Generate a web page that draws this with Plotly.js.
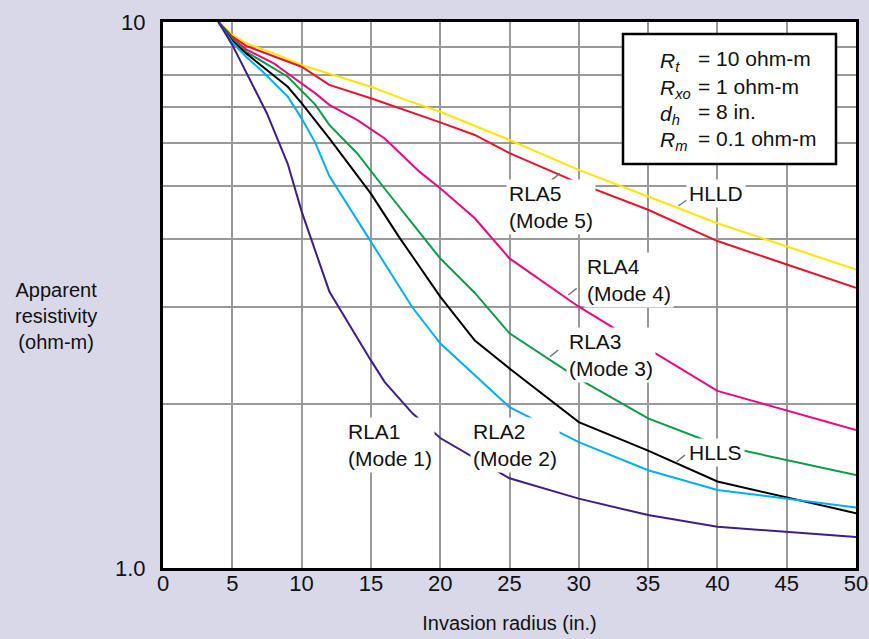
<!DOCTYPE html>
<html>
<head>
<meta charset="utf-8">
<script src="https://cdn.plot.ly/plotly-3.0.1.min.js"></script>
<style>html,body{margin:0;padding:0;background:#d9d8e8;}</style>
</head>
<body>
<div id="chart" style="width:869px;height:639px;"></div>
<script>
// ---- data ----
const hlldX = [4,5,6,8,10,12,15,17.5,20,25,30,35,40,50];
const hlldY = [10,9.47,9.14,8.76,8.34,8.05,7.61,7.2,6.85,6.08,5.36,4.79,4.28,3.52];

const rla5X = [4,5,6,8,10,12,15,20,22.5,25,30,35,40,50];
const rla5Y = [10,9.4,9.04,8.64,8.28,7.67,7.25,6.55,6.21,5.75,5.07,4.53,3.97,3.26];

const rla4X = [4,5,6,8,9,11,12,14,16,18.5,20,22.5,25,30,35,40,50];
const rla4Y = [10,9.34,8.91,8.4,8.05,7.4,7.05,6.62,6.12,5.32,4.96,4.37,3.69,3.01,2.52,2.11,1.79];

const rla3X = [4,5,6,9,11,12,14,16,20,22.5,25,30,35,40,50];
const rla3Y = [10,9.3,8.82,7.94,7.05,6.48,5.75,4.95,3.69,3.19,2.69,2.22,1.88,1.68,1.48];

const hllsX = [4,5,6,9,10,12,15,17,20,22.5,25,30,35,40,50];
const hllsY = [10,9.24,8.76,7.61,7.1,6.12,4.85,4.05,3.14,2.61,2.32,1.85,1.64,1.44,1.26];

const rla2X = [4,5,6,7.2,9,10,11,12,15,18,20,25,30,35,40,50];
const rla2Y = [10,9.17,8.64,8.11,7.3,6.66,6.0,5.22,3.96,3.0,2.58,1.97,1.70,1.51,1.39,1.29];

const rla1X = [4,5,7.5,9,10,12,15,16,18,20,25,30,35,40,50];
const rla1Y = [10,9.08,6.8,5.5,4.5,3.21,2.4,2.19,1.92,1.73,1.46,1.34,1.25,1.19,1.14];

const xTickVals = [0,5,10,15,20,25,30,35,40,45,50];
const yTickVals = [1,10];
const yTickText = ['1.0','10'];
const yGridVals = [2,3,4,5,6,7,8,9];

const seriesNames = ['HLLD','RLA5','RLA4','RLA3','HLLS','RLA2','RLA1'];
const seriesColors = ['#ffe500','#e3142d','#e5097f','#0a9b48','#000000','#00aeef','#3f1d87'];
const seriesX = [hlldX, rla5X, rla4X, rla3X, hllsX, rla2X, rla1X];
const seriesY = [hlldY, rla5Y, rla4Y, rla3Y, hllsY, rla2Y, rla1Y];

const boxSymbols = ['<i>R</i><sub><i>t</i></sub>','<i>R</i><sub><i>xo</i></sub>','<i>d</i><sub><i>h</i></sub>','<i>R</i><sub><i>m</i></sub>'];
const boxValues = ['= 10 ohm-m','= 1 ohm-m','= 8 in.','= 0.1 ohm-m'];

const curveLabels = ['RLA5<br>(Mode 5)','HLLD','RLA4<br>(Mode 4)','RLA3<br>(Mode 3)','RLA1<br>(Mode 1)','RLA2<br>(Mode 2)','HLLS'];

// ---- layout helpers (pixel -> paper) ----
const L = 163, T = 22, W = 693, H = 546;
const PX = p => (p - L) / W;
const PY = p => 1 - (p - T) / H;

const TFONT = 'Liberation Sans, Arial, sans-serif';

const traces = seriesNames.map((n, i) => ({
  type: 'scatter', mode: 'lines', name: n,
  x: seriesX[i], y: seriesY[i],
  line: {color: seriesColors[i], width: 2},
  hoverinfo: 'x+y+name'
}));

const annotations = [];
// y axis label
annotations.push({xref:'paper', yref:'paper', x: PX(56), y: PY(316), xanchor:'center', yanchor:'middle',
  text:'Apparent<br>resistivity<br>(ohm-m)', showarrow:false, align:'center',
  font:{family:TFONT, size:20, color:'#111'}});
// parameter box text
const boxRowY = [59, 86, 112, 138];
boxSymbols.forEach((s, i) => {
  annotations.push({xref:'paper', yref:'paper', x: PX(658), y: PY(boxRowY[i]), xanchor:'left', yanchor:'middle',
    text: s, showarrow:false, font:{family:TFONT, size:21, color:'#111'}, yshift: -3});
  annotations.push({xref:'paper', yref:'paper', x: PX(696), y: PY(boxRowY[i]), xanchor:'left', yanchor:'middle',
    text: boxValues[i], showarrow:false, font:{family:TFONT, size:21, color:'#111'}});
});
// curve labels: [left px, center y px]
const labelPos = [[506,207],[686,193],[584,280],[566,355],[345,445],[470,445],[686,452]];
curveLabels.forEach((t, i) => {
  annotations.push({xref:'paper', yref:'paper', x: PX(labelPos[i][0]), y: PY(labelPos[i][1]),
    xanchor:'left', yanchor:'middle', text: t, showarrow:false, align:'left',
    bgcolor:'white', borderpad:2,
    font:{family:TFONT, size:21, color:'#111'}});
});

const shapes = [];
shapes.push({type:'rect', xref:'paper', yref:'paper', x0: PX(623), x1: PX(836), y0: PY(164), y1: PY(34),
  fillcolor:'white', line:{color:'black', width:2.5}, layer:'above'});
const leaders = [[546.7,184,560,173.3],[678.3,206,686.7,200],[568.3,295,576.7,288.3],[550,356.7,558.3,350],
  [401.7,423.3,410,418.3],[521.7,431.7,531.7,425],[676.7,461.7,685,455]];
leaders.forEach(l => shapes.push({type:'line', xref:'paper', yref:'paper',
  x0: PX(l[0]), y0: PY(l[1]), x1: PX(l[2]), y1: PY(l[3]), line:{color:'#777', width:1.5}, layer:'above'}));

const layout = {
  width: 869, height: 639,
  paper_bgcolor: '#d9d8e8', plot_bgcolor: 'white',
  margin: {l: 163, r: 13, t: 22, b: 71, pad: 0},
  showlegend: false,
  xaxis: {
    range: [0, 50], tickmode: 'array', tickvals: xTickVals,
    showgrid: true, gridcolor: '#999999', gridwidth: 2,
    showline: true, mirror: true, linecolor: 'black', linewidth: 3,
    zeroline: false, ticks: '', ticklabelstandoff: -6,
    tickfont: {family: TFONT, size: 22, color: '#111'},
    title: {text: 'Invasion radius (in.)', font: {family: TFONT, size: 20, color: '#111'}, standoff: 21}
  },
  yaxis: {
    type: 'log', range: [0, 1], tickmode: 'array', tickvals: yTickVals, ticktext: yTickText,
    showgrid: true, gridcolor: '#999999', gridwidth: 2,
    minor: {tickmode: 'array', tickvals: yGridVals, showgrid: true, gridcolor: '#999999', gridwidth: 2, ticks: ''},
    showline: true, mirror: true, linecolor: 'black', linewidth: 3,
    zeroline: false, ticks: '', ticklabelstandoff: 10,
    tickfont: {family: TFONT, size: 22, color: '#111'}
  },
  annotations: annotations,
  shapes: shapes
};

Plotly.newPlot('chart', traces, layout, {displayModeBar: false, staticPlot: true});
</script>
</body>
</html>
